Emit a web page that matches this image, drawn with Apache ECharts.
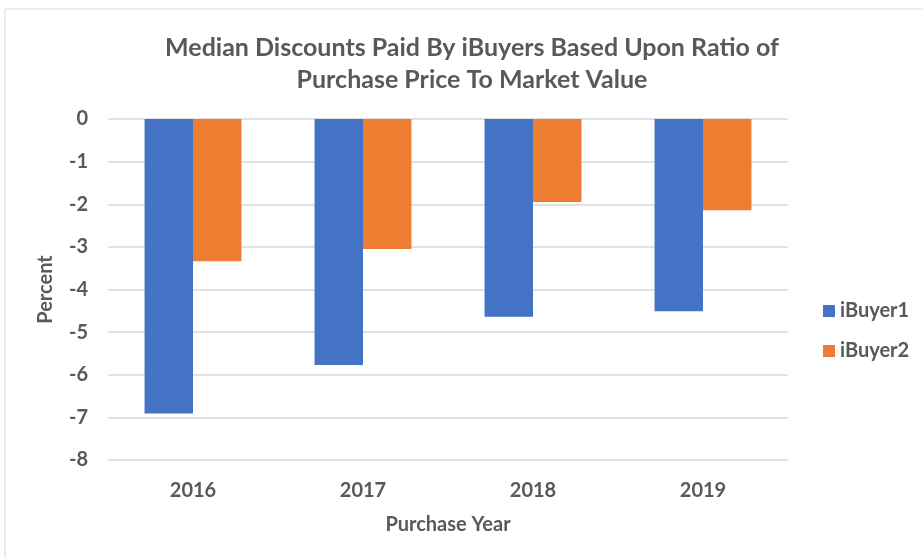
<!DOCTYPE html>
<html>
<head>
<meta charset="utf-8">
<script src="https://cdn.jsdelivr.net/npm/echarts@6/dist/echarts.min.js"></script>
<style>
  html, body { margin: 0; padding: 0; background: #fff; }
  #chart { width: 923px; height: 558px; }
</style>
</head>
<body>
<div id="chart"></div>
<script>
// data
const years = ['2016', '2017', '2018', '2019'];
const ibuyer1 = [-6.91, -5.77, -4.64, -4.51];
const ibuyer2 = [-3.34, -3.05, -1.95, -2.14];
const seriesNames = ['iBuyer1', 'iBuyer2'];

const textColor = '#595959';
const font = 'Lato, "Open Sans", sans-serif';

const chart = echarts.init(document.getElementById('chart'));
chart.setOption({
  animation: false,
  textStyle: { fontFamily: font },
  graphic: [{
    type: 'rect',
    shape: { x: 5, y: 9, width: 930, height: 560 },
    style: { fill: 'none', stroke: '#d9d9d9', lineWidth: 1 },
    silent: true
  }],
  title: {
    text: 'Median Discounts Paid By iBuyers Based Upon Ratio of\nPurchase Price To Market Value',
    left: 467,
    textAlign: 'center',
    top: 27,
    textStyle: {
      color: textColor, fontSize: 25, fontWeight: 'bold',
      fontFamily: font, lineHeight: 32
    }
  },
  legend: {
    orient: 'vertical',
    left: 818,
    top: 296,
    itemWidth: 12,
    itemHeight: 12,
    itemGap: 20,
    icon: 'rect',
    data: seriesNames,
    textStyle: { color: textColor, fontSize: 20, fontWeight: 'bold', fontFamily: font }
  },
  grid: { left: 108, right: 135, top: 119, bottom: 98 },
  xAxis: {
    type: 'category',
    data: years,
    name: 'Purchase Year',
    nameLocation: 'middle',
    nameGap: 55,
    nameTextStyle: { color: textColor, fontSize: 20, fontWeight: 'bold' },
    axisLine: { show: false },
    axisTick: { show: false },
    axisLabel: { color: textColor, fontSize: 20, fontWeight: 'bold', margin: 21 }
  },
  yAxis: {
    type: 'value',
    min: -8,
    max: 0,
    interval: 1,
    name: 'Percent',
    nameLocation: 'middle',
    nameGap: 52,
    nameTextStyle: { color: textColor, fontSize: 20, fontWeight: 'bold' },
    axisLine: { show: false },
    axisTick: { show: false },
    axisLabel: { color: textColor, fontSize: 20, fontWeight: 'bold', margin: 20 },
    splitLine: { lineStyle: { color: '#d9d9d9', width: 1.5 } }
  },
  series: [
    {
      name: seriesNames[0], type: 'bar', data: ibuyer1,
      itemStyle: { color: '#4472c4' },
      barGap: '0%', barCategoryGap: '43%'
    },
    {
      name: seriesNames[1], type: 'bar', data: ibuyer2,
      itemStyle: { color: '#ed7d31' },
      barGap: '0%', barCategoryGap: '43%'
    }
  ]
});
</script>
</body>
</html>
